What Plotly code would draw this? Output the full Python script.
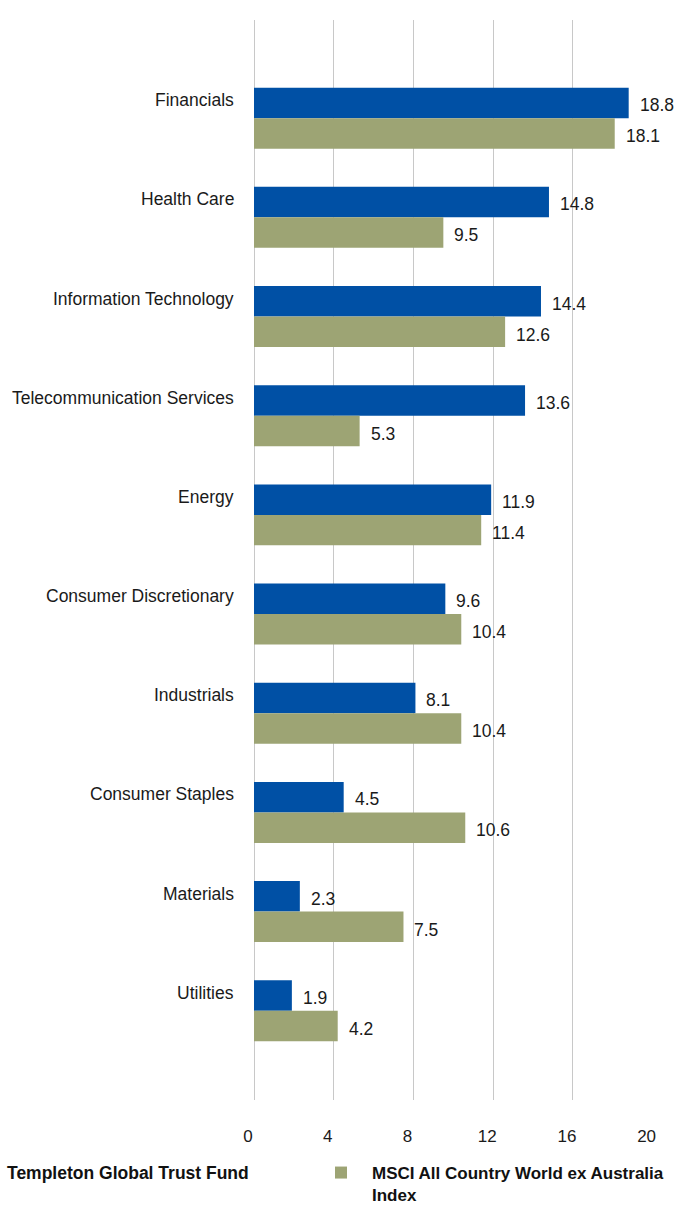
import plotly.graph_objects as go

categories = ["Financials", "Health Care", "Information Technology",
              "Telecommunication Services", "Energy", "Consumer Discretionary",
              "Industrials", "Consumer Staples", "Materials", "Utilities"]
fund = [18.8, 14.8, 14.4, 13.6, 11.9, 9.6, 8.1, 4.5, 2.3, 1.9]
index_vals = [18.1, 9.5, 12.6, 5.3, 11.4, 10.4, 10.4, 10.6, 7.5, 4.2]
x_ticks = [0, 4, 8, 12, 16, 20]
fund_name = "Templeton Global Trust Fund"
index_name = "MSCI All Country World ex Australia<br>Index"

FONT = "Liberation Sans, Arial, sans-serif"
BLUE = "#0050A5"
GREEN = "#9DA474"
TXT = "#1a1a1a"

fig = go.Figure()
fig.add_trace(go.Bar(y=categories, x=fund, orientation="h", name=fund_name,
                     showlegend=False, marker=dict(color=BLUE, line=dict(width=0))))
fig.add_trace(go.Bar(y=categories, x=index_vals, orientation="h", name=index_name,
                     marker=dict(color=GREEN, line=dict(width=0))))

annotations = []
for c, v in zip(categories, fund):
    annotations.append(dict(x=v, y=c, xref="x", yref="y", text=f"{v}", showarrow=False,
                            xanchor="left", yanchor="middle", xshift=9, yshift=13,
                            font=dict(family=FONT, size=17.5, color=TXT)))
for c, v in zip(categories, index_vals):
    annotations.append(dict(x=v, y=c, xref="x", yref="y", text=f"{v}", showarrow=False,
                            xanchor="left", yanchor="middle", xshift=9, yshift=-18,
                            font=dict(family=FONT, size=17.5, color=TXT)))
for c in categories:
    annotations.append(dict(x=0, y=c, xref="x", yref="y", text=c, showarrow=False,
                            xanchor="right", yanchor="middle", xshift=-18, yshift=18,
                            font=dict(family=FONT, size=17.5, color=TXT)))
# legend label of the fund series (its swatch lies outside the visible area in the reference)
annotations.append(dict(x=(5 - 254) / 399, y=(1100 - 1173) / 1080, xref="paper", yref="paper",
                        text=f"<b>{fund_name}</b>", showarrow=False, xanchor="left",
                        yanchor="middle", font=dict(family=FONT, size=17.5, color="#111111")))

fig.update_layout(
    width=676, height=1206,
    margin=dict(l=254, r=23, t=20, b=106, autoexpand=False),
    barmode="group", bargap=0.385, bargroupgap=0,
    plot_bgcolor="white", paper_bgcolor="white",
    font=dict(family=FONT, size=17.5, color=TXT),
    annotations=annotations,
    showlegend=True,
    legend=dict(orientation="h", xref="container", x=310 / 676, xanchor="left",
                yref="container", y=(1206 - 1155) / 1206, yanchor="top", valign="top",
                itemwidth=52, font=dict(family=FONT, size=17, color="#111111", weight="bold"),
                bgcolor="rgba(0,0,0,0)", borderwidth=0),
)
fig.update_xaxes(range=[0, 20.02], tickvals=x_ticks, showgrid=True, gridcolor="#C8C8C8",
                 gridwidth=1, zeroline=True, zerolinecolor="#C8C8C8", zerolinewidth=1,
                 showline=False, ticks="", ticklabelstandoff=24, ticklabelshift=-6,
                 tickfont=dict(family=FONT, size=17, color=TXT))
fig.update_yaxes(range=[9.9, -0.99], showticklabels=False, showgrid=False, zeroline=False,
                 ticks="", showline=False)

fig.write_html("out.html")
